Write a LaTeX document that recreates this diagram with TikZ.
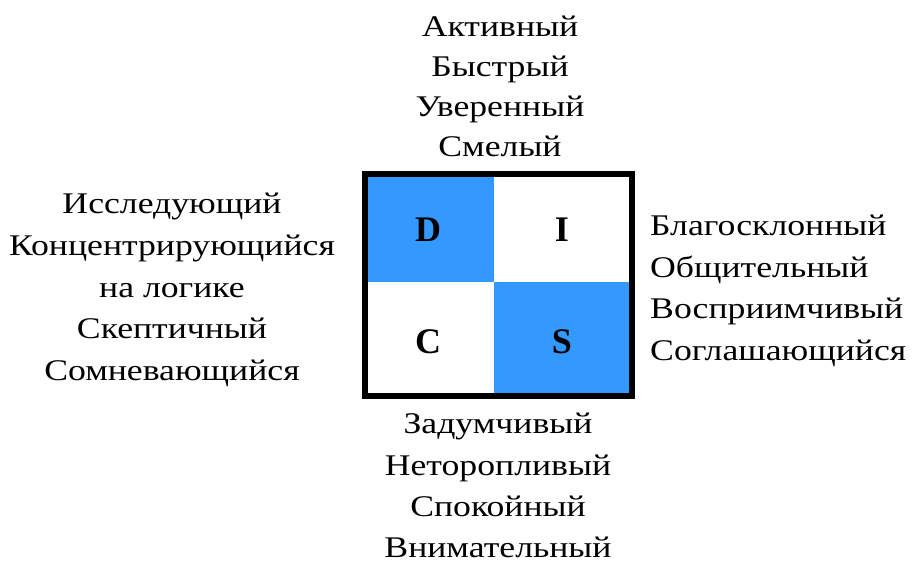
\documentclass[tikz,border=0pt]{standalone}
\usepackage{fontspec}
\setmainfont[FakeStretch=1.19]{Liberation Serif}
\newfontfamily\letterfont{Liberation Serif}
\definecolor{discblue}{RGB}{51,153,255}
\begin{document}
\begin{tikzpicture}[x=1pt,y=-1pt,
  lbl/.style={inner sep=0pt, anchor=base, font=\fontsize{30}{36}\selectfont},
  lblL/.style={lbl, anchor=base west},
  letter/.style={inner sep=0pt, anchor=center, font=\letterfont\fontsize{36}{40}\selectfont\bfseries}]
\useasboundingbox (0,0) rectangle (914,563);
% filled quadrants
\fill[discblue] (365,174) rectangle (494,282);
\fill[discblue] (494,282) rectangle (632,396);
% frame
\draw[line width=6pt] (365,174) rectangle (632,396);
% letters
\node[letter] (D) at (428,230) {D};
\node[letter] (I) at (562,230) {I};
\node[letter] (C) at (428,342) {C};
\node[letter] (S) at (562,342) {S};
% top
\node[lbl] (t1) at (500,36) {Активный};
\node[lbl] (t2) at (500,76) {Быстрый};
\node[lbl] (t3) at (500,116) {Уверенный};
\node[lbl] (t4) at (500,156) {Смелый};
% left
\node[lbl] (l1) at (172,213) {Исследующий};
\node[lbl] (l2) at (172,255) {Концентрирующийся};
\node[lbl] (l3) at (172,297) {на логике};
\node[lbl] (l4) at (172,338) {Скептичный};
\node[lbl] (l5) at (172,380) {Сомневающийся};
% right
\node[lblL] (r1) at (650,235) {Благосклонный};
\node[lblL] (r2) at (650,277) {Общительный};
\node[lblL] (r3) at (650,318) {Восприимчивый};
\node[lblL] (r4) at (650,360) {Соглашающийся};
% bottom
\node[lbl] (b1) at (498,433) {Задумчивый};
\node[lbl] (b2) at (498,475) {Неторопливый};
\node[lbl] (b3) at (498,516) {Спокойный};
\node[lbl] (b4) at (498,557) {Внимательный};
\end{tikzpicture}
\end{document}
